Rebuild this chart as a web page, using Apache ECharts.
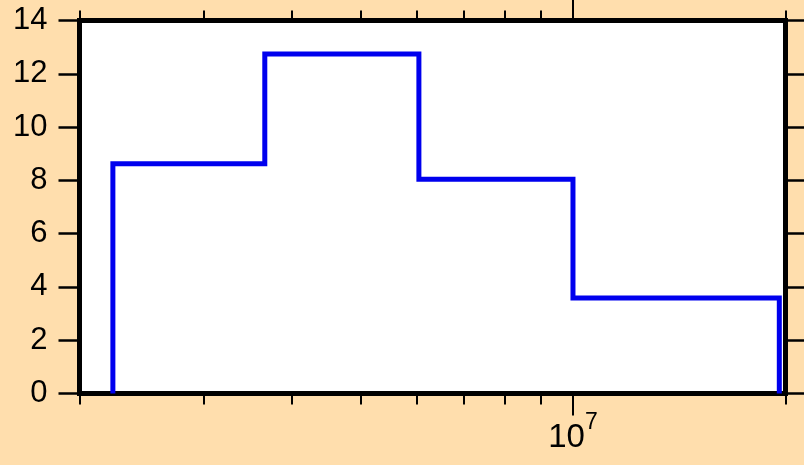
<!DOCTYPE html>
<html>
<head>
<meta charset="utf-8">
<script src="https://cdn.jsdelivr.net/npm/echarts@6/dist/echarts.min.js"></script>
<style>
  html, body { margin: 0; padding: 0; background: #FFDEAD; }
  #chart { width: 804px; height: 465px; }
</style>
</head>
<body>
<div id="chart"></div>
<script>
// histogram bin edges (log x) and heights
const binEdges = [2.23e6, 3.66e6, 6.05e6, 1.0e7, 1.96e7];
const binCounts = [8.62, 12.74, 8.04, 3.58];
const xMinorTicks = [2e6, 3e6, 4e6, 5e6, 6e6, 7e6, 8e6, 9e6, 2e7];
const xMajorTicks = [1e7];
const xRange = [2e6, 2e7];
const yRange = [0, 14];

// outline of the step histogram
let outline = [[binEdges[0], 0]];
binCounts.forEach((c, i) => {
    outline.push([binEdges[i], c]);
    outline.push([binEdges[i + 1], c]);
});
outline.push([binEdges[binEdges.length - 1], 0]);

const font = '"Liberation Sans", Arial, Helvetica, sans-serif';

function xAxisDef(position, ticks, tickLen, withLabel) {
    return {
        type: 'log',
        logBase: 10,
        position: position,
        min: xRange[0],
        max: xRange[1],
        axisLine: { show: false, onZero: false },
        splitLine: { show: false },
        axisTick: {
            show: true,
            customValues: ticks,
            length: tickLen,
            lineStyle: { color: '#000', width: 2 }
        },
        axisLabel: withLabel ? {
            show: true,
            customValues: ticks,
            margin: 18,
            formatter: v => '{a|10}{b|' + Math.round(Math.log10(v)) + '}',
            rich: {
                a: { fontSize: 33, fontFamily: font, color: '#000', padding: [10, 0, 0, 0] },
                b: { fontSize: 23, fontFamily: font, color: '#000', verticalAlign: 'top' }
            }
        } : { show: false }
    };
}

function yAxisDef(position, withLabel) {
    return {
        type: 'value',
        position: position,
        min: yRange[0],
        max: yRange[1],
        interval: 2,
        axisLine: { show: false, onZero: false },
        splitLine: { show: false },
        axisTick: { show: true, length: 21, lineStyle: { color: '#000', width: 2.5 } },
        axisLabel: withLabel ? {
            show: true,
            margin: 32,
            fontSize: 31,
            fontFamily: font,
            color: '#000'
        } : { show: false }
    };
}

const chart = echarts.init(document.getElementById('chart'));

chart.setOption({
    animation: false,
    backgroundColor: '#FFDEAD',
    grid: {
        left: 79.5,
        right: 18.5,
        top: 20.5,
        bottom: 71.5,
        show: true,
        backgroundColor: '#fff',
        borderColor: '#000',
        borderWidth: 5
    },
    xAxis: [
        xAxisDef('bottom', xMinorTicks, 11, false),
        xAxisDef('bottom', xMajorTicks, 22, true),
        xAxisDef('top', xMinorTicks, 10, false),
        xAxisDef('top', xMajorTicks, 22, false)
    ],
    yAxis: [
        yAxisDef('left', true),
        yAxisDef('right', false)
    ],
    series: [{
        type: 'line',
        xAxisIndex: 0,
        yAxisIndex: 0,
        data: outline,
        showSymbol: false,
        lineStyle: { color: '#0000ee', width: 5, join: 'miter' },
        z: 3
    }]
});
</script>
</body>
</html>
